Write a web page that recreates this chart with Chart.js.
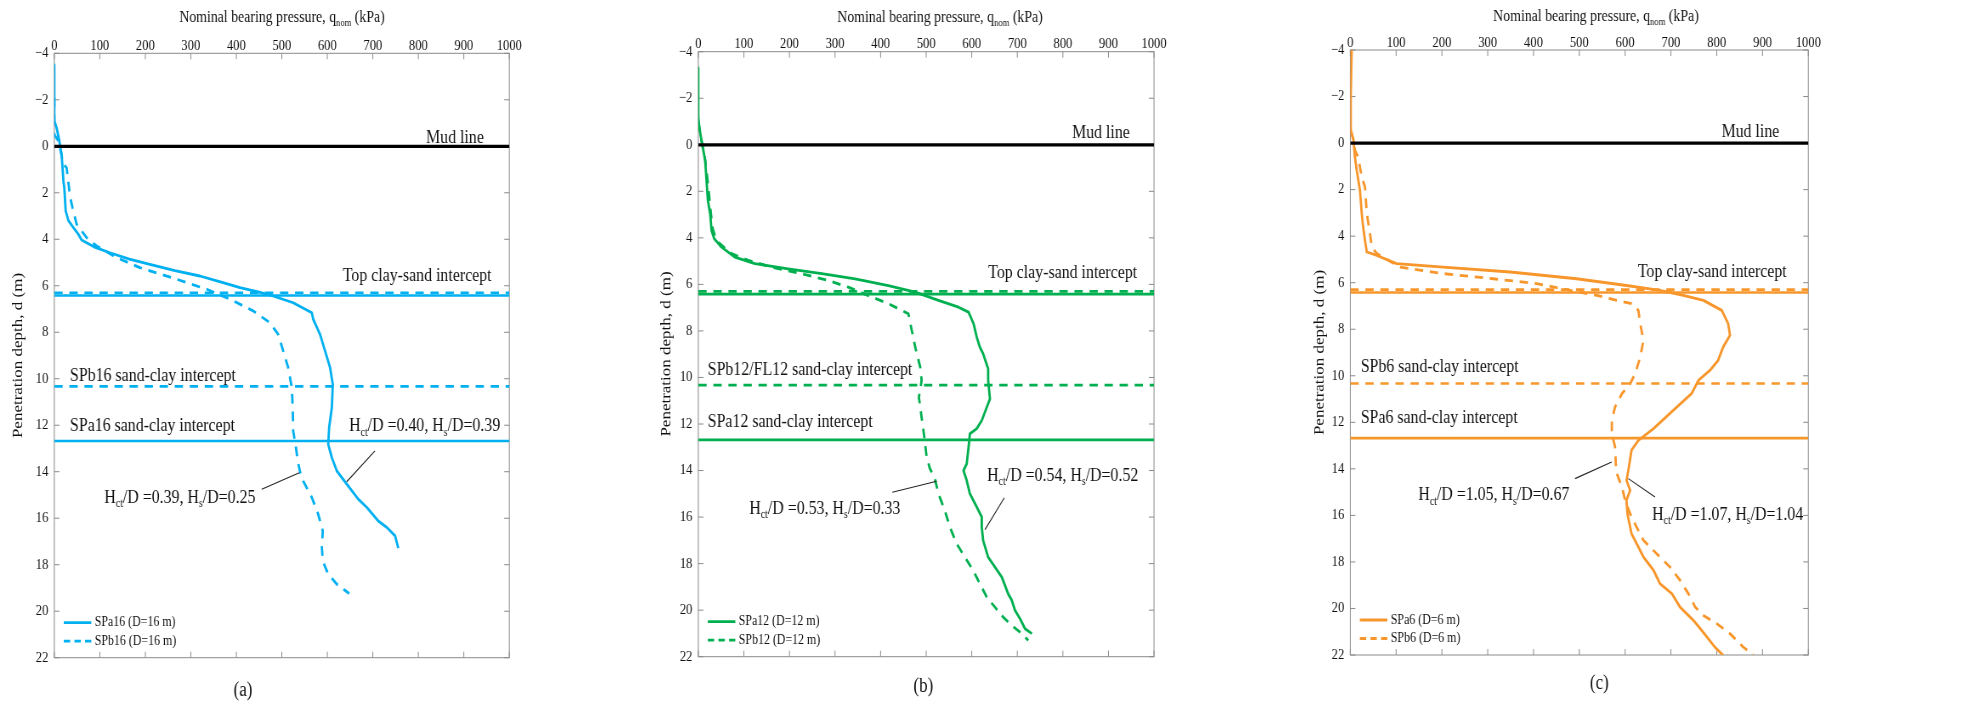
<!DOCTYPE html>
<html><head><meta charset="utf-8">
<script src="https://cdn.jsdelivr.net/npm/chart.js@4.4.1/dist/chart.umd.min.js"></script>
<style>
html,body{margin:0;padding:0;background:#fff;width:1966px;height:703px;overflow:hidden;}
canvas{position:absolute;top:0;transform-origin:0 0;}
</style></head><body>
<canvas id="pa"></canvas><canvas id="pb"></canvas><canvas id="pc"></canvas>
<script>
// ---------- tick labels ----------
const xTickValues = [0,100,200,300,400,500,600,700,800,900,1000];
const xTickLabels = ['0','100','200','300','400','500','600','700','800','900','1000'];
const yTickValues = [-4,-2,0,2,4,6,8,10,12,14,16,18,20,22];
const yTickLabels = ['\u22124','\u22122','0','2','4','6','8','10','12','14','16','18','20','22'];

// ---------- horizontal reference lines (depth, m) ----------
const mudLineDepth = 0;
const topInterceptDashed = 6.3;
const topInterceptSolid = 6.42;
const sandClayDashed = 10.33;
const sandClaySolid = 12.68;

// ---------- panel (a) D = 16 m ----------
const spa16Q = [0,0,5,11,16,20,22,25,31,42,53,60,90,122,165,210,265,320,365,408,450,481,525,566,569,584,595,606,612,610,604,602,610,621,643,668,687,712,731,749,756];
const spa16D = [-3.5,-1.1,-0.8,-0.23,0.34,1.49,1.8,2.78,3.2,3.5,3.79,4.03,4.35,4.58,4.85,5.08,5.35,5.58,5.83,6.08,6.27,6.44,6.73,7.16,7.44,8.09,8.8,9.52,10.24,11.24,12.1,12.82,13.4,13.97,14.54,15.18,15.54,16.12,16.4,16.76,17.29];
const spb16Q = [0,0,9,20,27,35,40,49,71,93,137,188,269,335,386,437,474,492,503,514,522,524,525,531,535,540,547,566,580,590,588,590,602,621,648];
const spb16D = [-2.1,-0.5,-0.23,0.77,0.92,2.21,2.64,3.35,3.93,4.29,4.79,5.22,5.72,6.15,6.58,7.08,7.59,8.09,8.8,9.52,10.38,11.24,12.25,12.96,13.54,14.0,14.4,15.11,15.83,16.55,17.26,17.84,18.41,18.84,19.24];

// ---------- panel (b) D = 12 m ----------
const spa12Q = [0,0,2,7,11,15,18,21,26,29,35,51,80,124,197,271,344,417,476,527,571,593,604,611,618,625,636,636,640,633,622,611,596,593,589,582,589,596,611,622,622,625,636,651,666,680,688,695,706,717,732];
const spa12D = [-3.3,-1.2,-0.76,-0.18,0.24,0.67,1.53,2.39,2.97,3.68,4.04,4.4,4.83,5.11,5.33,5.54,5.76,6.05,6.33,6.69,6.98,7.19,7.69,8.27,8.7,8.98,9.63,10.13,10.92,11.28,11.85,12.2,12.42,13.0,13.71,14.0,14.43,15.0,15.57,16.0,16.43,17.0,17.72,18.15,18.58,19.3,19.58,20.01,20.37,20.8,21.01];
const spb12Q = [0,7,11,15,18,22,26,31,38,44,73,110,161,227,285,329,373,417,461,467,476,487,490,484,490,496,501,508,519,527,541,552,567,585,603,618,633,651,669,688,710,724];
const spb12D = [-1.0,-0.18,0.24,0.67,1.1,1.82,2.68,3.54,4.04,4.2,4.68,4.97,5.26,5.54,5.83,6.12,6.48,6.83,7.26,7.84,8.7,9.56,10.13,10.85,11.71,12.57,13.42,13.9,14.35,15.0,15.72,16.43,17.15,17.72,18.29,18.87,19.44,19.87,20.3,20.66,21.01,21.3];

// ---------- panel (c) D = 6 m ----------
const spa6Q = [3,1,1,7,10,14,21,25,28,32,36,58,101,203,349,494,603,676,727,771,811,825,829,814,803,785,760,745,705,662,629,614,607,603,611,603,605,614,629,640,662,676,702,720,749,767,796,814];
const spa6D = [-4,-2,-0.55,-0.12,0.6,1.17,2.03,3.03,3.61,4.18,4.68,4.83,5.18,5.33,5.54,5.83,6.12,6.33,6.54,6.76,7.19,7.76,8.26,8.77,9.34,9.77,10.2,10.77,11.49,12.27,12.78,13.2,14.07,14.5,14.92,15.35,15.93,16.79,17.36,17.79,18.36,18.93,19.36,19.94,20.51,20.94,21.66,22.01];
const spb6Q = [1,7,10,17,25,32,36,43,47,58,109,203,312,407,480,538,582,614,629,633,640,633,622,611,593,578,571,571,578,580,582,593,600,611,625,640,669,698,720,738,753,771,800,829,858,880];
const spb6D = [-0.55,-0.12,0.31,0.6,1.46,1.89,3.03,3.89,4.47,4.75,5.33,5.61,5.83,6.04,6.33,6.54,6.76,6.9,7.19,7.76,8.48,9.2,9.91,10.34,10.77,11.34,11.92,12.49,13.06,13.92,14.21,14.78,15.35,15.93,16.5,17.07,17.65,18.22,18.79,19.36,19.94,20.3,20.65,21.08,21.66,22.0];

// ---------- layout / style ----------
const S = 0.85;                       // horizontal squeeze of the reference
const FONT = "'Liberation Serif','Times New Roman',serif";
const DASH = [9.8, 7.9];
const H = (a, b) => [['H'],['ct',1],['/D =' + a + ', H'],['s',1],['/D=' + b]];

const panels = [
  { id:'pa', L:0, W:655, PL:54.3, PR:509.3, PT:53.3, PB:657.7, color:'#00B0F0',
    curves:[{label:'SPa16 (D=16 m)', q:spa16Q, d:spa16D, dash:false},
            {label:'SPb16 (D=16 m)', q:spb16Q, d:spb16D, dash:true}],
    xTitle:{x:282, y:22}, yTitle:{x:18, y:355.5}, caption:{text:'(a)', x:243, y:691},
    labels:[
      {segs:[['Mud line']], q:944, d:-0.15, align:'right'},
      {segs:[['Top clay-sand intercept']], q:961, d:5.79, align:'right'},
      {segs:[['SPb16 sand-clay intercept']], q:34.5, d:10.09, align:'left'},
      {segs:[['SPa16 sand-clay intercept']], q:34.5, d:12.25, align:'left'},
      {segs:H('0.40','0.39'), q:980, d:12.25, align:'right'},
      {segs:H('0.39','0.25'), q:110, d:15.33, align:'left'}],
    leaders:[[704.6,13.1,642.6,14.43],[455.8,14.75,538.5,14.04]] },
  { id:'pb', L:655, W:655, PL:698.3, PR:1154, PT:51.7, PB:656.7, color:'#00B050',
    curves:[{label:'SPa12 (D=12 m)', q:spa12Q, d:spa12D, dash:false},
            {label:'SPb12 (D=12 m)', q:spb12Q, d:spb12D, dash:true}],
    xTitle:{x:940, y:22}, yTitle:{x:666.7, y:354}, caption:{text:'(b)', x:923.3, y:687},
    labels:[
      {segs:[['Mud line']], q:947, d:-0.3, align:'right'},
      {segs:[['Top clay-sand intercept']], q:963, d:5.73, align:'right'},
      {segs:[['SPb12/FL12 sand-clay intercept']], q:20.6, d:9.91, align:'left'},
      {segs:[['SPa12 sand-clay intercept']], q:20.6, d:12.14, align:'left'},
      {segs:H('0.54','0.52'), q:965.5, d:14.43, align:'right'},
      {segs:H('0.53','0.33'), q:112, d:15.86, align:'left'}],
    leaders:[[671.5,15.17,629.1,16.54],[425.7,14.93,523.1,14.46]] },
  { id:'pc', L:1310, W:656, PL:1350.3, PR:1808.3, PT:50, PB:655, color:'#F7962B',
    curves:[{label:'SPa6 (D=6 m)', q:spa6Q, d:spa6D, dash:false},
            {label:'SPb6 (D=6 m)', q:spb6Q, d:spb6D, dash:true}],
    xTitle:{x:1596, y:21}, yTitle:{x:1320, y:352.5}, caption:{text:'(c)', x:1599.3, y:683.5},
    labels:[
      {segs:[['Mud line']], q:936.7, d:-0.26, align:'right'},
      {segs:[['Top clay-sand intercept']], q:952.8, d:5.76, align:'right'},
      {segs:[['SPb6 sand-clay intercept']], q:22.7, d:9.84, align:'left'},
      {segs:[['SPa6 sand-clay intercept']], q:22.7, d:12.03, align:'left'},
      {segs:H('1.05','0.67'), q:148.5, d:15.35, align:'left'},
      {segs:H('1.07','1.04'), q:989, d:16.18, align:'right'}],
    leaders:[[490.6,14.42,570.7,13.71],[607,14.42,665.3,15.21]] }
];

function drawRich(ctx, segs, x, y, align, size) {
  const sub = size * 0.62;
  let total = 0;
  const widths = segs.map(s => {
    ctx.font = (s[1] ? sub : size) + 'px ' + FONT;
    const w = ctx.measureText(s[0]).width; total += w; return w;
  });
  let cx = align === 'right' ? x - total : align === 'center' ? x - total / 2 : x;
  ctx.textAlign = 'left'; ctx.textBaseline = 'alphabetic';
  segs.forEach((s, i) => {
    ctx.font = (s[1] ? sub : size) + 'px ' + FONT;
    ctx.fillText(s[0], cx, s[1] ? y + size * 0.24 : y);
    cx += widths[i];
  });
}

function decor(p) {
  const cx = px => (px - p.L) / S;
  const seg = (ctx, x1, y1, x2, y2) => { ctx.beginPath(); ctx.moveTo(x1, y1); ctx.lineTo(x2, y2); ctx.stroke(); };
  return {
    id: 'decor',
    beforeDatasetsDraw(chart) {
      const {ctx, chartArea: a, scales: {x, y}} = chart;
      ctx.save();
      ctx.strokeStyle = '#8a8a8a'; ctx.lineWidth = 1;
      ctx.strokeRect(a.left, a.top, a.right - a.left, a.bottom - a.top);
      x.ticks.forEach(t => { const px = x.getPixelForValue(t.value);
        seg(ctx, px, a.top, px, a.top + 6); seg(ctx, px, a.bottom, px, a.bottom - 6); });
      y.ticks.forEach(t => { const py = y.getPixelForValue(t.value);
        seg(ctx, a.left, py, a.left + 6, py); seg(ctx, a.right, py, a.right - 6, py); });
      ctx.restore();
    },
    afterDraw(chart) {
      const {ctx, chartArea: a, scales: {x, y}} = chart;
      ctx.save();
      ctx.fillStyle = '#111';
      p.labels.forEach(l => drawRich(ctx, l.segs, x.getPixelForValue(l.q), y.getPixelForValue(l.d), l.align, 18.7));
      ctx.strokeStyle = '#222'; ctx.lineWidth = 1.1;
      p.leaders.forEach(r => seg(ctx, x.getPixelForValue(r[0]), y.getPixelForValue(r[1]), x.getPixelForValue(r[2]), y.getPixelForValue(r[3])));
      drawRich(ctx, [['Nominal bearing pressure, q'], ['nom', 1], [' (kPa)']], cx(p.xTitle.x), p.xTitle.y, 'center', 16.3);
      ctx.save();
      ctx.translate(cx(p.yTitle.x), p.yTitle.y); ctx.rotate(-Math.PI / 2);
      ctx.font = '17px ' + FONT; ctx.textAlign = 'center'; ctx.textBaseline = 'middle';
      ctx.fillText('Penetration depth, d (m)', 0, 0);
      ctx.restore();
      ctx.font = '20px ' + FONT; ctx.textAlign = 'center'; ctx.textBaseline = 'middle';
      ctx.fillText(p.caption.text, cx(p.caption.x), p.caption.y);
      const items = chart.data.datasets.filter(d => d.label);
      items.forEach((ds, i) => {
        const yy = a.bottom - (i === 0 ? 35 : 16.5);
        ctx.strokeStyle = ds.borderColor; ctx.lineWidth = 2.8;
        ctx.setLineDash(ds.borderDash && ds.borderDash.length ? [7.5, 5] : []);
        seg(ctx, a.left + 9.5 / S, yy, a.left + 37 / S, yy);
        ctx.setLineDash([]);
        ctx.fillStyle = '#111'; ctx.font = '14px ' + FONT; ctx.textAlign = 'left'; ctx.textBaseline = 'middle';
        ctx.fillText(ds.label, a.left + 40.5 / S, yy);
      });
      ctx.restore();
    }
  };
}

panels.forEach(p => {
  const cw = Math.round(p.W / S);
  const canvas = document.getElementById(p.id);
  canvas.width = cw; canvas.height = 703;
  canvas.style.left = p.L + 'px';
  canvas.style.width = cw + 'px'; canvas.style.height = '703px';
  canvas.style.transform = 'scaleX(' + S + ')';

  const hline = (d, color, width, dash) => ({
    data: [{x: 0, y: d}, {x: 1000, y: d}], borderColor: color, borderWidth: width,
    borderDash: dash || [], pointRadius: 0, showLine: true, fill: false });
  const datasets = [
    hline(topInterceptDashed, p.color, 2.6, DASH),
    hline(topInterceptSolid, p.color, 2.6),
    hline(sandClayDashed, p.color, 2.6, DASH),
    hline(sandClaySolid, p.color, 2.6),
    hline(mudLineDepth, '#000', 3.2)
  ];
  p.curves.forEach(c => datasets.push({
    label: c.label, data: c.q.map((q, i) => ({x: q, y: c.d[i]})),
    borderColor: p.color, borderWidth: 2.8, borderDash: c.dash ? DASH : [],
    pointRadius: 0, showLine: true, tension: 0, borderJoinStyle: 'round', fill: false }));

  const tickFont = {family: FONT, size: 14.8};
  new Chart(canvas, {
    type: 'scatter',
    data: {datasets},
    options: {
      responsive: false, animation: false, devicePixelRatio: 1,
      layout: {padding: {left: 0, top: 0, right: cw - (p.PR - p.L) / S, bottom: 703 - p.PB}},
      plugins: {legend: {display: false}, tooltip: {enabled: false}},
      scales: {
        x: {type: 'linear', position: 'top', min: 0, max: 1000,
            grid: {display: false, drawTicks: false}, border: {display: false},
            ticks: {stepSize: 100, autoSkip: false, maxRotation: 0, padding: -1.5, color: '#111', font: tickFont,
                    callback: v => xTickLabels[xTickValues.indexOf(Math.round(v))]},
            afterFit: s => { s.height = p.PT; }},
        y: {type: 'linear', position: 'left', reverse: true, min: -4, max: 22,
            grid: {display: false, drawTicks: false}, border: {display: false},
            ticks: {stepSize: 2, autoSkip: false, padding: 7, color: '#111', font: tickFont,
                    callback: v => yTickLabels[yTickValues.indexOf(Math.round(v))]},
            afterFit: s => { s.width = (p.PL - p.L) / S; }}
      }
    },
    plugins: [decor(p)]
  });
});
</script>
</body></html>
